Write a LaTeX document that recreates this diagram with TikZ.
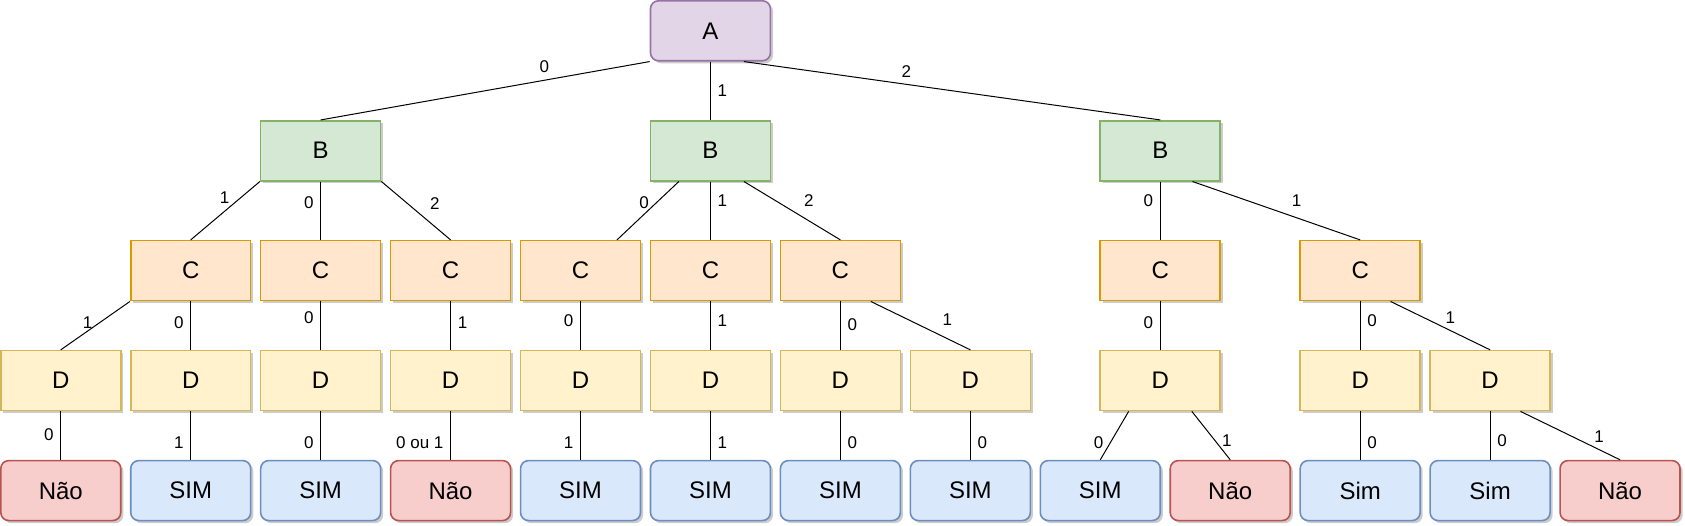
\documentclass[tikz,border=0pt]{standalone}
\usepackage{fontspec}
\setmainfont{Liberation Sans}
\usepackage{tikz}
\usetikzlibrary{positioning, calc, shadows}

\definecolor{purpleF}{HTML}{E1D5E7}
\definecolor{purpleD}{HTML}{9673A6}
\definecolor{greenF}{HTML}{D5E8D4}
\definecolor{greenD}{HTML}{82B366}
\definecolor{orangeF}{HTML}{FFE6CC}
\definecolor{orangeD}{HTML}{D79B00}
\definecolor{yellowF}{HTML}{FFF2CC}
\definecolor{yellowD}{HTML}{D6B656}
\definecolor{blueF}{HTML}{DAE8FC}
\definecolor{blueD}{HTML}{6C8EBF}
\definecolor{redF}{HTML}{F8CECC}
\definecolor{redD}{HTML}{B85450}

\tikzset{
    box/.style = {draw, line width = 0.8pt, minimum width = 60pt, minimum height = 30pt,
        font = \fontsize{12}{14}\selectfont,
        drop shadow = {shadow xshift = 1.3pt, shadow yshift = -1.3pt, fill = black, opacity = .2}},
    nA/.style = {box, rounded corners = 4pt, fill = purpleF, draw = purpleD},
    nB/.style = {box, fill = greenF, draw = greenD},
    nC/.style = {box, fill = orangeF, draw = orangeD},
    nD/.style = {box, fill = yellowF, draw = yellowD},
    sim/.style = {box, rounded corners = 4pt, fill = blueF, draw = blueD},
    nao/.style = {box, rounded corners = 4pt, fill = redF, draw = redD},
    lbl/.style = {font = \fontsize{8.5}{10}\selectfont}
}

\begin{document}
\begin{tikzpicture}[node distance = 65pt, line width = 0.5pt]
    \node[nao] (L1) {Não};
    \node[sim] (L2) [right of = L1] {SIM};
    \node[sim] (L3) [right of = L2] {SIM};
    \node[nao] (L4) [right of = L3] {Não};
    \node[sim] (L5) [right of = L4] {SIM};
    \node[sim] (L6) [right of = L5] {SIM};
    \node[sim] (L7) [right of = L6] {SIM};
    \node[sim] (L8) [right of = L7] {SIM};
    \node[sim] (L9) [right of = L8] {SIM};
    \node[nao] (L10) [right of = L9] {Não};
    \node[sim] (L11) [right of = L10] {Sim};
    \node[sim] (L12) [right of = L11] {Sim};
    \node[nao] (L13) [right of = L12] {Não};

    \node[nD] (D1) [above of = L1, node distance = 55pt] {D};
    \node[nD] (D2) [right of = D1] {D};
    \node[nD] (D3) [right of = D2] {D};
    \node[nD] (D4) [right of = D3] {D};
    \node[nD] (D5) [right of = D4] {D};
    \node[nD] (D6) [right of = D5] {D};
    \node[nD] (D7) [right of = D6] {D};
    \node[nD] (D8) [right of = D7] {D};
    \node[nD] (D9) [above of = L9, node distance = 55pt, xshift = 30pt] {D};
    \node[nD] (D10) [above of = L11, node distance = 55pt] {D};
    \node[nD] (D11) [right of = D10] {D};

    \node[nC] (C1) [above of = D2, node distance = 55pt] {C};
    \node[nC] (C2) [right of = C1] {C};
    \node[nC] (C3) [right of = C2] {C};
    \node[nC] (C4) [right of = C3] {C};
    \node[nC] (C5) [right of = C4] {C};
    \node[nC] (C6) [right of = C5] {C};
    \node[nC] (C7) [above of = D9, node distance = 55pt] {C};
    \node[nC] (C8) [above of = D10, node distance = 55pt] {C};

    \node[nB] (B1) [above of = C2, node distance = 60pt] {B};
    \node[nB] (B2) [above of = C5, node distance = 60pt] {B};
    \node[nB] (B3) [above of = C7, node distance = 60pt] {B};
    \node[nA] (A) [above of = B2, node distance = 60pt] {A};

    \useasboundingbox ([shift = {(-30pt, -17.5pt)}]L1.center) rectangle ++(842.5pt, 262.5pt);

    \path (A.south west) edge node[lbl, pos = .32, above] {0} (B1.north);
    \path (A) edge node[lbl, right] {1} (B2);
    \path ($(A.south)!.55!(A.south east)$) edge node[lbl, pos = .39, above] {2} (B3.north);

    \path (B1.south west) edge node[lbl, pos = .28, left = 2pt] {1} (C1.north);
    \path (B1) edge node[lbl, pos = .36, left] {0} (C2);
    \path (B1.south east) edge node[lbl, pos = .6, above right] {2} (C3.north);
    \path ($(B2.south)!.52!(B2.south west)$) edge node[lbl, pos = .37, left] {0} ($(C4.north)!.6!(C4.north east)$);
    \path (B2) edge node[lbl, pos = .33, right] {1} (C5);
    \path ($(B2.south)!.55!(B2.south east)$) edge node[lbl, pos = .55, above right] {2} (C6.north);
    \path (B3) edge node[lbl, pos = .33, left] {0} (C7);
    \path ($(B3.south)!.53!(B3.south east)$) edge node[lbl, pos = .55, above right] {1} (C8.north);

    \path (C1.south west) edge node[lbl, pos = .44, left] {1} (D1.north);
    \path (C1) edge node[lbl, pos = .44, left] {0} (D2);
    \path (C2) edge node[lbl, pos = .34, left] {0} (D3);
    \path (C3) edge node[lbl, pos = .44, right] {1} (D4);
    \path (C4) edge node[lbl, pos = .4, left] {0} (D5);
    \path (C5) edge node[lbl, pos = .4, right] {1} (D6);
    \path (C6) edge node[lbl, pos = .48, right] {0} (D7);
    \path ($(C6.south)!.5!(C6.south east)$) edge node[lbl, pos = .65, above right] {1} (D8.north);
    \path (C7) edge node[lbl, pos = .44, left] {0} (D9);
    \path (C8) edge node[lbl, pos = .4, right] {0} (D10);
    \path ($(C8.south)!.5!(C8.south east)$) edge node[lbl, pos = .6, above] {1} (D11.north);

    \path (D1) edge node[lbl, pos = .48, left] {0} (L1);
    \path (D2) edge node[lbl, pos = .64, left] {1} (L2);
    \path (D3) edge node[lbl, pos = .64, left] {0} (L3);
    \path (D4) edge node[lbl, pos = .64, left] {0 ou 1} (L4);
    \path (D5) edge node[lbl, pos = .64, left] {1} (L5);
    \path (D6) edge node[lbl, pos = .64, right] {1} (L6);
    \path (D7) edge node[lbl, pos = .64, right] {0} (L7);
    \path (D8) edge node[lbl, pos = .64, right] {0} (L8);
    \path ($(D9.south)!.52!(D9.south west)$) edge node[lbl, pos = .64, left] {0} (L9.north);
    \path ($(D9.south)!.52!(D9.south east)$) edge node[lbl, pos = .6, right] {1} (L10.north);
    \path (D10) edge node[lbl, pos = .64, right] {0} (L11);
    \path (D11) edge node[lbl, pos = .6, right] {0} (L12);
    \path ($(D11.south)!.5!(D11.south east)$) edge node[lbl, pos = .79, above] {1} (L13.north);
\end{tikzpicture}
\end{document}
